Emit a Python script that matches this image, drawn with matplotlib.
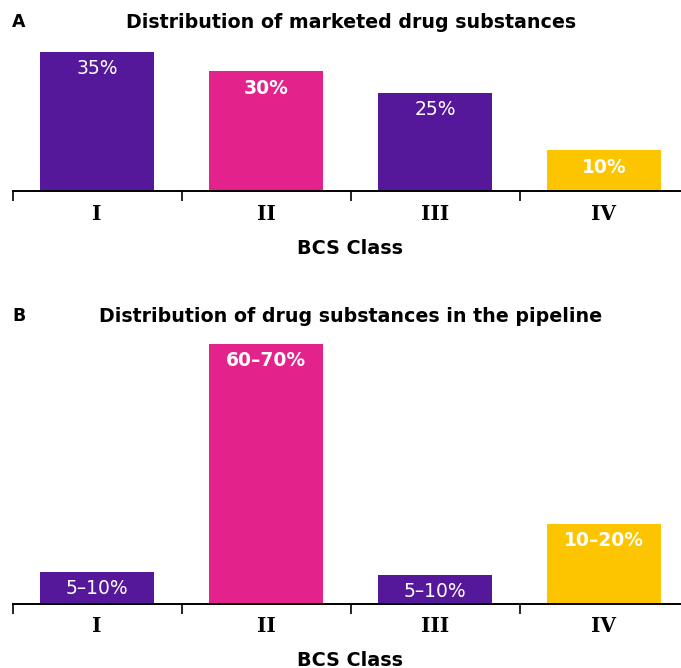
import matplotlib
matplotlib.use("Agg")
import matplotlib.pyplot as plt

categories = ["I", "II", "III", "IV"]
marketed_values = [35, 30.2, 24.8, 10.2]
marketed_labels = ["35%", "30%", "25%", "10%"]
pipeline_values = [8, 65, 7.3, 20]
pipeline_labels = ["5\u201310%", "60\u201370%", "5\u201310%", "10\u201320%"]

colors = ["#56189A", "#E4228C", "#56189A", "#FDC500"]
label_weights = ["normal", "bold", "normal", "bold"]

W, H = 681, 668
fig = plt.figure(figsize=(W / 100, H / 100), dpi=100)

def px_axes(left, right, top, bottom):
    return fig.add_axes([left / W, 1 - bottom / H, (right - left) / W, (bottom - top) / H])

def draw(ax, values, labels, ymax):
    x = list(range(len(categories)))
    ax.bar(x, values, width=0.675, color=colors)
    ax.set_xlim(-0.5, 3.5)
    ax.set_ylim(0, ymax)
    for s in ["left", "right", "top"]:
        ax.spines[s].set_visible(False)
    ax.spines["bottom"].set_linewidth(1.4)
    ax.set_yticks([])
    ax.set_xticks(x)
    ax.set_xticklabels(categories, fontfamily="DejaVu Serif", fontweight="bold", fontsize=14.5)
    ax.tick_params(axis="x", which="major", length=0, pad=9)
    ax.set_xticks([-0.5, 0.5, 1.5, 2.5, 3.5], minor=True)
    ax.tick_params(axis="x", which="minor", length=7, width=1.2, direction="out")
    for xi, v, lab, w in zip(x, values, labels, label_weights):
        ax.annotate(lab, (xi, v), xytext=(0, -17), textcoords="offset pixels",
                    ha="center", va="center", color="white", fontsize=13.5, fontweight=w)
    ax.patch.set_alpha(0)

axA = px_axes(12.5, 688.5, 52, 191)
draw(axA, marketed_values, marketed_labels, 35)
axB = px_axes(12.5, 688.5, 344, 604)
draw(axB, pipeline_values, pipeline_labels, 65)

def ftext(x, y, s, **kw):
    fig.text(x / W, 1 - y / H, s, **kw)

ftext(12, 22, "A", fontsize=12.5, fontweight="bold", ha="left", va="center")
ftext(351, 22, "Distribution of marketed drug substances", fontsize=13.7, fontweight="bold", ha="center", va="center")
ftext(350, 248, "BCS Class", fontsize=13.8, fontweight="bold", ha="center", va="center")

ftext(12, 316, "B", fontsize=12.5, fontweight="bold", ha="left", va="center")
ftext(351, 316, "Distribution of drug substances in the pipeline", fontsize=13.7, fontweight="bold", ha="center", va="center")
ftext(350, 660, "BCS Class", fontsize=13.8, fontweight="bold", ha="center", va="center")

fig.savefig("out.png", dpi=100)
